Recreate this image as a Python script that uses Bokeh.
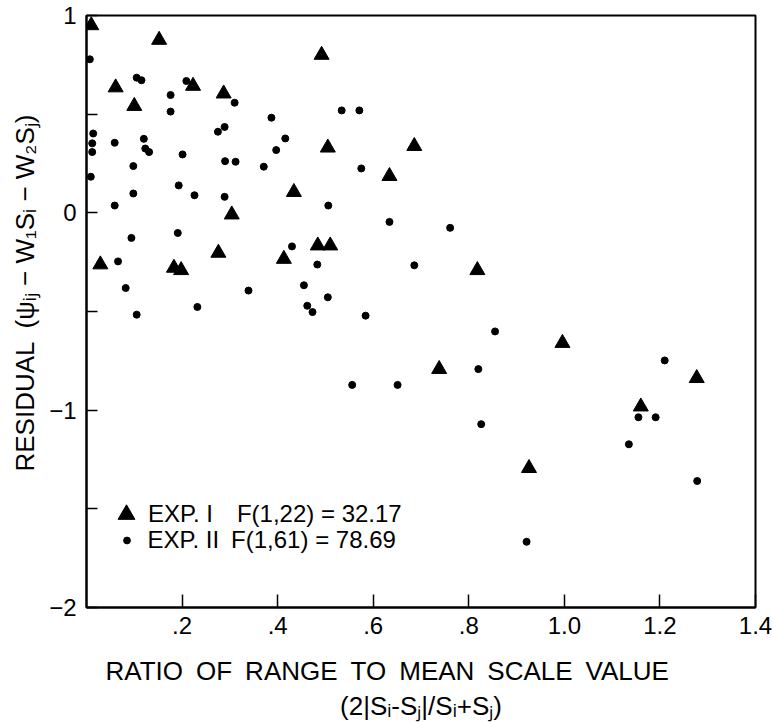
from bokeh.plotting import figure
from bokeh.models import Range1d, FixedTicker, Title, Legend, LegendItem
from bokeh.embed import file_html
from bokeh.resources import INLINE

# ---- data ----
exp1_x = [0.010, 0.152, 0.492, 0.061, 0.223, 0.287, 0.100, 0.505, 0.634, 0.434,
          0.304, 0.029, 0.183, 0.198, 0.276, 0.413, 0.484, 0.510, 0.686, 0.818,
          0.996, 0.738, 1.160, 1.277, 0.926]
exp1_y = [0.950, 0.876, 0.800, 0.635, 0.643, 0.604, 0.541, 0.330, 0.186, 0.105,
          -0.009, -0.262, -0.279, -0.291, -0.203, -0.234, -0.166, -0.166, 0.338, -0.291,
          -0.660, -0.792, -0.982, -0.838, -1.294]

exp2_x = [0.007, 0.105, 0.115, 0.209, 0.176, 0.176, 0.310, 0.387, 0.534, 0.571,
          0.014, 0.012, 0.012, 0.009, 0.059, 0.120, 0.123, 0.131, 0.201, 0.275,
          0.289, 0.290, 0.312, 0.371, 0.397, 0.416, 0.575, 0.098, 0.193, 0.098,
          0.226, 0.289, 0.059, 0.506, 0.634, 0.094, 0.191, 0.430, 0.066, 0.483,
          0.082, 0.339, 0.455, 0.505, 0.462, 0.473, 0.232, 0.105, 0.584, 0.761,
          0.686, 0.855, 0.556, 0.651, 0.820, 0.826, 1.210, 1.155, 1.191, 1.135,
          1.278, 0.921]
exp2_y = [0.778, 0.685, 0.672, 0.668, 0.597, 0.513, 0.558, 0.482, 0.519, 0.519,
          0.402, 0.352, 0.308, 0.183, 0.355, 0.375, 0.326, 0.308, 0.296, 0.411,
          0.435, 0.262, 0.259, 0.234, 0.318, 0.377, 0.225, 0.237, 0.139, 0.098,
          0.089, 0.081, 0.037, 0.037, -0.046, -0.127, -0.102, -0.170, -0.246, -0.262,
          -0.381, -0.394, -0.367, -0.428, -0.471, -0.503, -0.477, -0.516, -0.521, -0.076,
          -0.266, -0.601, -0.872, -0.872, -0.792, -1.071, -0.748, -1.036, -1.036, -1.173,
          -1.359, -1.667]

x_ticks = [0.2, 0.4, 0.6, 0.8, 1.0, 1.2, 1.4]
x_tick_labels = [".2", ".4", ".6", ".8", "1.0", "1.2", "1.4"]
y_ticks = [-2, -1, 0, 1]
y_minor_ticks = [-1.5, -0.5, 0.5]

SP = "\u2002"  # en space (not collapsed in SVG text)
legend_labels = ["EXP. I" + SP + SP + "F(1,22) = 32.17",
                 "EXP. II" + SP + "F(1,61) = 78.69"]
x_title_1 = SP.join(["RATIO", "OF", "RANGE", "TO", "MEAN", "SCALE", "VALUE"])
x_title_2 = "(2|S\u1d62-S\u2c7c|/S\u1d62+S\u2c7c)"
y_title = "RESIDUAL" + SP + "(\u03c8\u1d62\u2c7c \u2212 W\u2081S\u1d62 \u2212 W\u2082S\u2c7c)"

FONT = "Liberation Sans"

# frame geometry in pixels
FL, FR, FT, FB = 85, 755, 15, 607
W, H = 773, 723

p = figure(width=W, height=H, x_range=Range1d(0, 1.4), y_range=Range1d(-2, 1),
           output_backend="svg", toolbar_location=None,
           min_border_left=FL, min_border_right=W - FR,
           min_border_top=FT, min_border_bottom=H - FB)
p.grid.visible = False
p.outline_line_color = "black"
p.outline_line_width = 2
p.background_fill_color = "white"
p.border_fill_color = "white"

# axes
xa = p.xaxis[0]
xa.ticker = FixedTicker(ticks=x_ticks)
xa.major_label_overrides = dict(zip(x_ticks, x_tick_labels))
xa.major_tick_in = 13
xa.major_tick_out = 0
xa.minor_tick_in = 0
xa.minor_tick_out = 0
xa.axis_line_width = 2
xa.major_tick_line_width = 1.5
xa.major_label_standoff = 9
xa.major_label_text_font = FONT
xa.major_label_text_font_size = "24px"
xa.major_label_text_color = "black"

ya = p.yaxis[0]
ya.ticker = FixedTicker(ticks=y_ticks, minor_ticks=y_minor_ticks)
ya.major_tick_in = 11
ya.major_tick_out = 0
ya.minor_tick_in = 11
ya.minor_tick_out = 0
ya.minor_tick_line_color = "black"
ya.minor_tick_line_width = 1.5
ya.axis_line_width = 2
ya.major_tick_line_width = 1.5
ya.major_label_standoff = 10
ya.major_label_text_font = FONT
ya.major_label_text_font_size = "24px"
ya.major_label_text_color = "black"

# data
r1 = p.scatter(exp1_x, exp1_y, marker="triangle", size=15, color="black")
r2 = p.scatter(exp2_x, exp2_y, marker="circle", size=7, color="black")


# legends (one per series so each key keeps its own size)
def make_legend(label, renderer, gw, gh, standoff, loc):
    lg = Legend(items=[LegendItem(label=label, renderers=[renderer])],
                location=loc, glyph_width=gw, glyph_height=gh, label_height=gh,
                label_standoff=standoff, padding=0, margin=0, spacing=0,
                background_fill_alpha=0, border_line_alpha=0,
                label_text_font=FONT, label_text_font_size="24px",
                label_text_color="black")
    p.add_layout(lg, "center")


make_legend(legend_labels[0], r1, 42, 42, 1, (19, FB - 535))
make_legend(legend_labels[1], r2, 17, 28, 13, (31.5, FB - 554))

# axis titles
t1 = Title(text=x_title_1, align="left", offset=19, standoff=34,
           text_font=FONT, text_font_size="26px", text_font_style="normal",
           text_color="black")
t2 = Title(text=x_title_2, align="center", standoff=-36,
           text_font=FONT, text_font_size="26px", text_font_style="normal",
           text_color="black")
p.add_layout(t1, "below")
p.add_layout(t2, "below")

ty = Title(text=y_title, align="left", offset=136, standoff=14,
           text_font=FONT, text_font_size="26px", text_font_style="normal",
           text_color="black")
p.add_layout(ty, "left")

open("out.html", "w").write(file_html(p, INLINE))
